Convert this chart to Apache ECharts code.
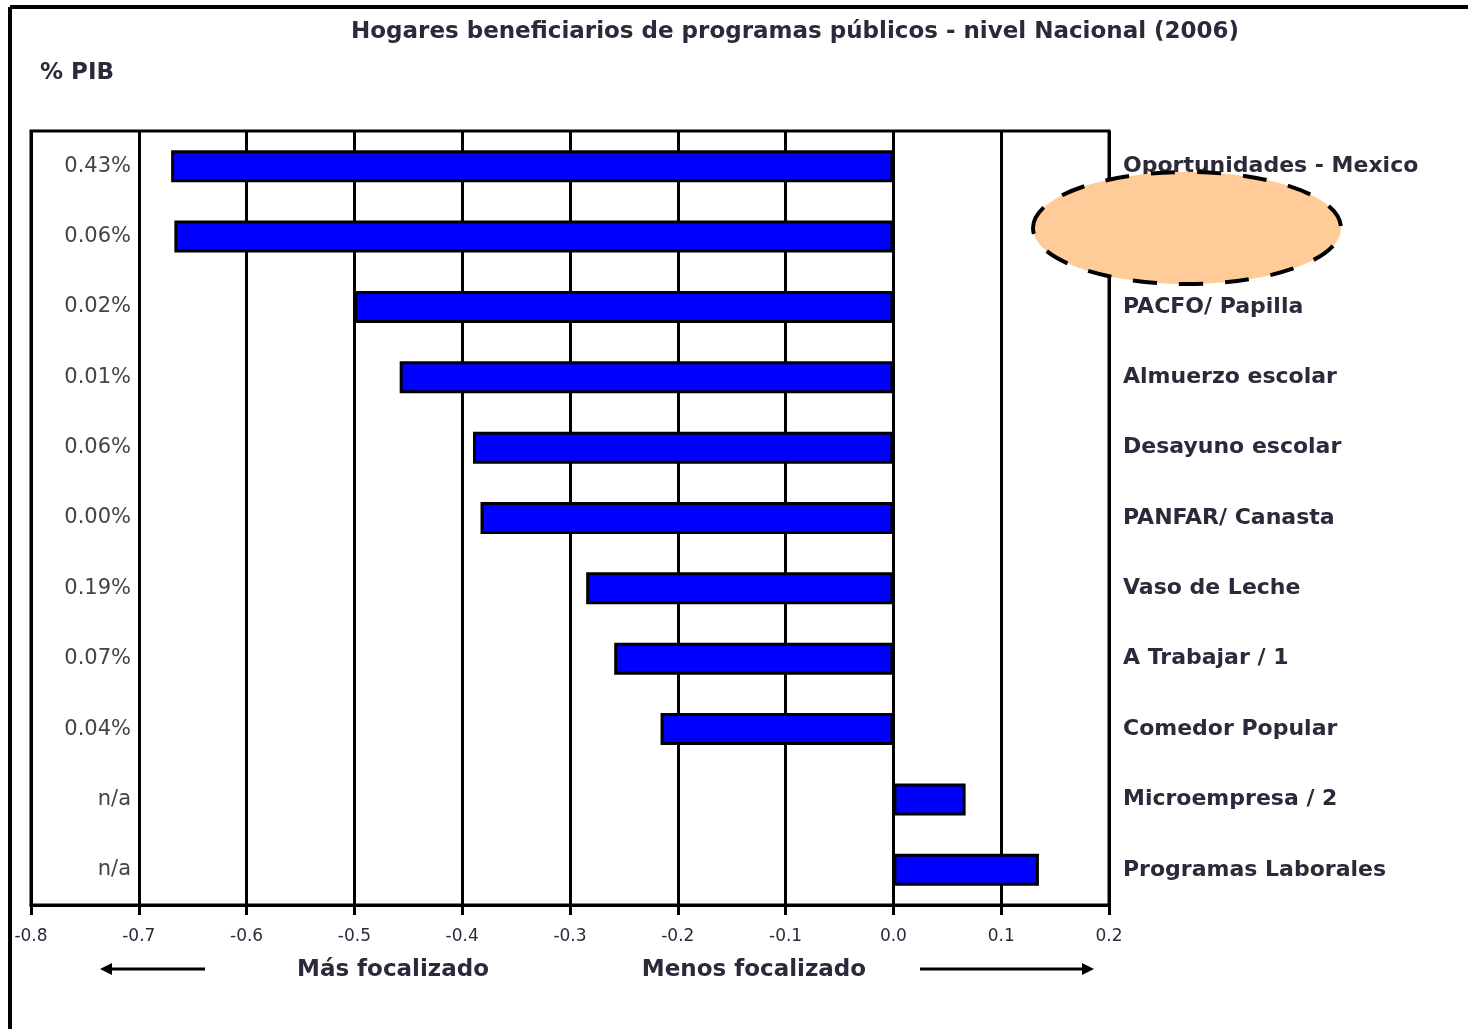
<!DOCTYPE html>
<html><head><meta charset="utf-8">
<script src="https://cdn.jsdelivr.net/npm/echarts@6/dist/echarts.min.js"></script>
<style>html,body{margin:0;padding:0;background:#fff}#c{width:1468px;height:1029px}</style>
</head><body><div id="c"></div>
<script>
const programas = ["Oportunidades - Mexico", "", "PACFO/ Papilla", "Almuerzo escolar", "Desayuno escolar", "PANFAR/ Canasta", "Vaso de Leche", "A Trabajar / 1", "Comedor Popular", "Microempresa / 2", "Programas Laborales"];
const valores = [-0.67, -0.667, -0.50, -0.458, -0.39, -0.383, -0.285, -0.259, -0.216, 0.067, 0.135];
const pibLabels = ["0.43%", "0.06%", "0.02%", "0.01%", "0.06%", "0.00%", "0.19%", "0.07%", "0.04%", "n/a", "n/a"];
const titulo = "Hogares beneficiarios de programas públicos - nivel Nacional (2006)";

const chart = echarts.init(document.getElementById('c'), null, {renderer: 'canvas'});
const F = "'DejaVu Sans', sans-serif";
chart.setOption({
  animation: false,
  backgroundColor: '#fff',
  title: {text: titulo, left: 346, top: 16, textStyle: {fontFamily: F, fontSize: 23, fontWeight: 'bold', color: '#2a2a3a'}},
  grid: {left: 31, right: 359, top: 131, bottom: 124, show: true, borderColor: '#000', borderWidth: 3, backgroundColor: 'transparent'},
  xAxis: {
    type: 'value', min: -0.8, max: 0.2, interval: 0.1,
    axisLine: {show: true, lineStyle: {color: '#000', width: 3}},
    axisTick: {show: true, length: 10, lineStyle: {color: '#000', width: 3}},
    splitLine: {show: true, lineStyle: {color: '#000', width: 3}},
    axisLabel: {margin: 23, fontFamily: F, fontSize: 17, color: '#2a2a3a', formatter: v => (Math.abs(v) < 1e-9 ? 0 : v).toFixed(1)}
  },
  yAxis: [
    {type: 'category', data: programas, inverse: true, position: 'right',
     axisLine: {show: false}, axisTick: {show: false}, splitLine: {show: false},
     axisLabel: {margin: 14, align: 'left', fontFamily: F, fontSize: 22, fontWeight: 'bold', color: '#2a2a3a'}},
    {type: 'category', data: pibLabels, inverse: true, position: 'left',
     axisLine: {show: false}, axisTick: {show: false}, splitLine: {show: false},
     axisLabel: {inside: true, align: 'right', margin: 100, fontFamily: F, fontSize: 21, color: '#444'}}
  ],
  series: [{
    type: 'bar', yAxisIndex: 0, data: valores, barWidth: 32,
    itemStyle: {color: '#0000ff', borderColor: '#000', borderWidth: 3}
  }],
  graphic: [
    {type: 'line', shape: {x1: 10, y1: 7, x2: 1468, y2: 7}, style: {stroke: '#000', lineWidth: 4}},
    {type: 'line', shape: {x1: 10, y1: 7, x2: 10, y2: 1029}, style: {stroke: '#000', lineWidth: 4}},
    {type: 'text', left: 40, top: 62, style: {text: '% PIB', font: "bold 23px " + F, fill: '#2a2a3a'}},
    {type: 'ellipse', shape: {cx: 1187, cy: 228, rx: 154, ry: 56}, z: 100,
     style: {fill: '#ffcc99', stroke: '#000', lineWidth: 4, lineDash: [24, 22]}},
    {type: 'text', x: 393, y: 970, style: {text: 'Más focalizado', font: "bold 23px " + F, fill: '#2a2a3a', textAlign: 'center', textVerticalAlign: 'middle'}},
    {type: 'text', x: 754, y: 970, style: {text: 'Menos focalizado', font: "bold 23px " + F, fill: '#2a2a3a', textAlign: 'center', textVerticalAlign: 'middle'}},
    {type: 'line', shape: {x1: 205, y1: 969, x2: 108, y2: 969}, style: {stroke: '#000', lineWidth: 3}},
    {type: 'polygon', shape: {points: [[100, 969], [112, 963], [112, 975]]}, style: {fill: '#000'}},
    {type: 'line', shape: {x1: 920, y1: 969, x2: 1085, y2: 969}, style: {stroke: '#000', lineWidth: 3}},
    {type: 'polygon', shape: {points: [[1094, 969], [1082, 963], [1082, 975]]}, style: {fill: '#000'}}
  ]
});
</script></body></html>
